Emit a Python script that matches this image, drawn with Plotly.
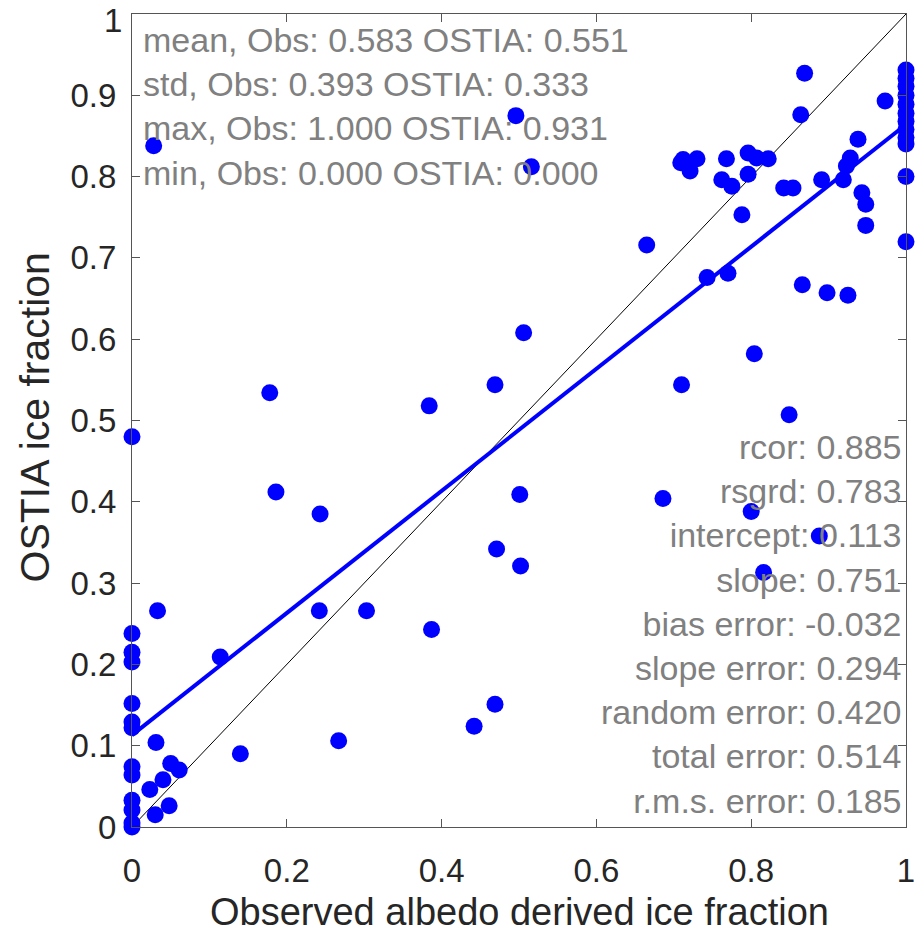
import plotly.graph_objects as go

# Observed albedo derived ice fraction (x) vs OSTIA ice fraction (y)
obs = [0, 0, 0, 0, 0, 0, 0, 0, 0, 0, 0, 0, 0,
       0.033, 0.114, 0.242, 0.303, 0.031, 0.140, 0.267, 0.050, 0.061, 0.040, 0.023, 0.048, 0.030,
       0.028, 0.178, 0.186, 0.243, 0.384, 0.387, 0.442, 0.469, 0.469, 0.471, 0.496, 0.501, 0.502,
       0.506, 0.516, 0.665, 0.686, 0.710, 0.743, 0.770, 0.800, 0.804, 0.816, 0.849, 0.866, 0.888,
       0.898, 0.925,
       0.869, 0.864, 0.973, 0.938, 0.928, 0.923, 0.919, 0.891, 0.943, 0.948, 0.948, 0.788, 0.842,
       0.854, 0.796, 0.807, 0.822, 0.768, 0.796, 0.762, 0.775, 0.712, 0.730, 0.721, 0.709,
       1, 1, 1, 1, 1, 1, 1, 1, 1, 1, 1, 1]
ostia = [0.480, 0.238, 0.215, 0.203, 0.152, 0.129, 0.122, 0.074, 0.064, 0.033, 0.021, 0.005, 0.0,
         0.266, 0.209, 0.266, 0.266, 0.104, 0.090, 0.106, 0.078, 0.070, 0.058, 0.046, 0.026, 0.015,
         0.838, 0.534, 0.412, 0.385, 0.518, 0.243, 0.124, 0.151, 0.544, 0.342, 0.875, 0.409, 0.321,
         0.608, 0.812, 0.716, 0.404, 0.544, 0.676, 0.681, 0.388, 0.582, 0.313, 0.507, 0.667, 0.358,
         0.657, 0.654,
         0.927, 0.876, 0.893, 0.846, 0.823, 0.813, 0.796, 0.796, 0.780, 0.766, 0.740, 0.753, 0.786,
         0.786, 0.829, 0.823, 0.822, 0.822, 0.803, 0.796, 0.788, 0.821, 0.822, 0.807, 0.817,
         0.931, 0.921, 0.911, 0.900, 0.889, 0.878, 0.868, 0.858, 0.848, 0.840, 0.800, 0.720]

intercept = 0.113
slope = 0.751
fit_x = [0, 1]
one_to_one = [0, 1]

stats_top = ["mean, Obs: 0.583 OSTIA: 0.551",
             "std, Obs: 0.393 OSTIA: 0.333",
             "max, Obs: 1.000 OSTIA: 0.931",
             "min, Obs: 0.000 OSTIA: 0.000"]
stats_bottom = ["rcor: 0.885", "rsgrd: 0.783", "intercept: 0.113", "slope: 0.751",
                "bias error: -0.032", "slope error: 0.294", "random error: 0.420",
                "total error: 0.514", "r.m.s. error: 0.185"]

tick_vals_x = [0, 0.2, 0.4, 0.6, 0.8, 1]
tick_text_x = ["0", "0.2", "0.4", "0.6", "0.8", "1"]
tick_vals_y = [0, 0.1, 0.2, 0.3, 0.4, 0.5, 0.6, 0.7, 0.8, 0.9, 1]
tick_text_y = ["0", "0.1", "0.2", "0.3", "0.4", "0.5", "0.6", "0.7", "0.8", "0.9", "1"]

x_title = "Observed albedo derived ice fraction"
y_title = "OSTIA ice fraction"

FONT = "Liberation Sans, Arial, sans-serif"
DARK = "#262626"
TICK_SIZE = 33

fig = go.Figure()
fig.add_trace(go.Scatter(x=one_to_one, y=one_to_one, mode="lines",
                         line=dict(color="black", width=1), hoverinfo="skip"))
fig.add_trace(go.Scatter(x=fit_x, y=[intercept + slope * v for v in fit_x], mode="lines",
                         line=dict(color="#0000ff", width=4), hoverinfo="skip"))
fig.add_trace(go.Scatter(x=obs, y=ostia, mode="markers",
                         marker=dict(color="#0000ff", size=17, line=dict(width=0)),
                         cliponaxis=False))

fig.add_annotation(xref="paper", yref="paper", x=0.012, y=0.886, xanchor="left",
                   yanchor="middle", align="left", showarrow=False,
                   text="<br>".join(stats_top),
                   font=dict(family=FONT, size=34, color="#808080"))
fig.add_annotation(xref="paper", yref="paper", x=0.998, y=0.250, xanchor="right",
                   yanchor="middle", align="right", showarrow=False,
                   text="<br>".join(stats_bottom),
                   font=dict(family=FONT, size=34, color="#808080"))
# axis titles
fig.add_annotation(xref="paper", yref="paper", x=0.5, y=-0.105, xanchor="center",
                   yanchor="middle", showarrow=False, text=x_title,
                   font=dict(family=FONT, size=38, color=DARK))
fig.add_annotation(xref="paper", yref="paper", x=-0.125, y=0.504, xanchor="center",
                   yanchor="middle", showarrow=False, text=y_title, textangle=-90,
                   font=dict(family=FONT, size=41, color=DARK))
# top y tick label, nudged down so that it stays inside the page
fig.add_annotation(xref="paper", yref="paper", x=-0.0105, y=1.0172, xanchor="right",
                   yanchor="top", showarrow=False, text=tick_text_y[-1],
                   font=dict(family=FONT, size=TICK_SIZE, color=DARK))

axis_common = dict(showgrid=False, zeroline=False, showline=True, linecolor="#555555",
                   linewidth=1, mirror="ticks", ticks="inside", ticklen=8,
                   tickcolor="#555555", range=[0, 1], automargin=False,
                   tickfont=dict(family=FONT, size=TICK_SIZE, color=DARK))
fig.update_xaxes(**axis_common, tickvals=tick_vals_x, ticktext=tick_text_x,
                 ticklabelstandoff=14, ticklabeloverflow="allow")
fig.update_yaxes(**axis_common, tickvals=tick_vals_y,
                 ticktext=tick_text_y[:-1] + [""], ticklabelstandoff=8)

fig.update_layout(width=920, height=934,
                  margin=dict(l=132, r=14, t=14, b=107, autoexpand=False),
                  paper_bgcolor="white", plot_bgcolor="white", showlegend=False)
fig.write_html("out.html")
